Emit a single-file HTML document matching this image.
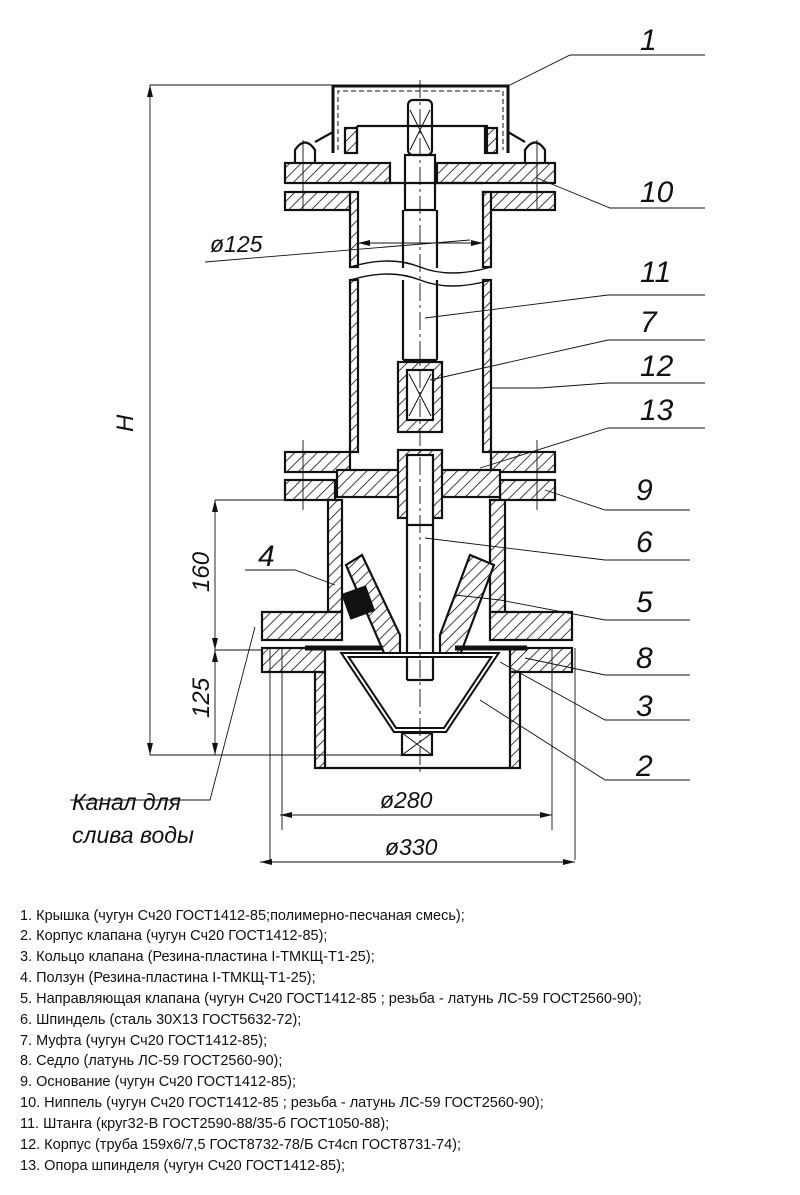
<!DOCTYPE html>
<html><head><meta charset="utf-8"><style>
body{margin:0;background:#fff}
svg{display:block}
.t{font-family:"Liberation Sans","DejaVu Sans",sans-serif;font-style:italic;fill:#111}
.l{font-family:"Liberation Sans","DejaVu Sans",sans-serif;font-size:14.5px;fill:#111}
</style></head><body>
<svg width="800" height="1195" viewBox="0 0 800 1195" xmlns="http://www.w3.org/2000/svg">
<defs>
<pattern id="h" width="8" height="8" patternUnits="userSpaceOnUse" patternTransform="rotate(45)">
<rect width="8" height="8" fill="#fff"/><line x1="0" y1="0" x2="0" y2="8" stroke="#111" stroke-width="1.6"/></pattern>
</defs>
<g stroke="#111" stroke-width="2.2" fill="none">
<path d="M333 153 V86 H508 V153" stroke-width="3"/>
<path d="M338 150 V91 H503 V150" stroke-width="1" stroke-dasharray="5 3"/>
<rect x="345" y="128" width="12" height="25" fill="url(#h)"/>
<rect x="485" y="128" width="12" height="25" fill="url(#h)"/>
<path d="M357 126 H487 V153 M357 126 V153"/>
<path d="M295 163 V150 Q305 135 315 150 V163 M525 163 V150 Q535 135 545 150 V163"/>
<path d="M315 142 L333 132 M525 142 L508 132"/>
<rect x="285" y="163" width="105" height="20" fill="url(#h)"/>
<rect x="437" y="163" width="118" height="20" fill="url(#h)"/>
<rect x="285" y="192" width="70" height="18" fill="url(#h)"/>
<rect x="483" y="192" width="72" height="18" fill="url(#h)"/>
<path d="M355 183 H483"/>
<rect x="350" y="192" width="8" height="75" fill="url(#h)"/>
<rect x="483" y="192" width="8" height="75" fill="url(#h)"/>
<rect x="350" y="280" width="8" height="172" fill="url(#h)"/>
<rect x="483" y="280" width="8" height="172" fill="url(#h)"/>
<path d="M350 267 Q390 255 420 267 T491 267" stroke-width="1.4"/>
<path d="M350 280 Q390 268 420 280 T491 280" stroke-width="1.4"/>
<rect x="408" y="100" width="24" height="55" rx="5"/>
<path d="M410 110 L430 150 M430 110 L410 150" stroke-width="1"/>
<rect x="405" y="155" width="30" height="55"/>
<path d="M403 210 V268 M437 210 V268 M403 280 V360 M437 280 V360 M403 360 H437"/>
<rect x="398" y="362" width="44" height="70" fill="url(#h)"/>
<rect x="407" y="370" width="26" height="50" fill="#fff"/>
<path d="M409 374 L431 416 M431 374 L409 416" stroke-width="1"/>
<rect x="285" y="452" width="65" height="20" fill="url(#h)"/>
<rect x="491" y="452" width="64" height="20" fill="url(#h)"/>
<rect x="285" y="480" width="50" height="20" fill="url(#h)"/>
<rect x="500" y="480" width="55" height="20" fill="url(#h)"/>
<rect x="337" y="470" width="163" height="27" fill="url(#h)"/>
<rect x="398" y="450" width="44" height="68" fill="url(#h)"/>
<rect x="407" y="455" width="26" height="70" fill="#fff"/>
<path d="M407 525 V680 M433 525 V680 M407 680 H433"/>
<rect x="328" y="500" width="14" height="112" fill="url(#h)"/>
<rect x="490" y="500" width="15" height="112" fill="url(#h)"/>
<path d="M262 612 H342 V640 H262 Z" fill="url(#h)"/>
<path d="M490 612 H572 V640 H490 Z" fill="url(#h)"/>
<path d="M346 565 L362 555 L400 635 L400 655 L385 655 Z" fill="url(#h)"/>
<path d="M494 565 L470 555 L440 635 L440 655 L460 655 Z" fill="url(#h)"/>
<rect x="346" y="590" width="24" height="25" fill="#111" transform="rotate(-20 358 602)"/>
<rect x="262" y="648" width="63" height="24" fill="url(#h)"/>
<rect x="510" y="648" width="62" height="24" fill="url(#h)"/>
<rect x="315" y="672" width="10" height="96" fill="url(#h)"/>
<rect x="510" y="672" width="10" height="96" fill="url(#h)"/>
<path d="M325 768 H510"/>
<path d="M305 648 H383 M455 648 H527" stroke-width="5"/>
<path d="M345 655 H495 L445 730 H395 Z" stroke-width="6"/>
<path d="M345 655 H495 L445 730 H395 Z" stroke="#fff" stroke-width="2"/>
<rect x="402" y="733" width="30" height="22"/>
<path d="M402 733 L432 755 M432 733 L402 755" stroke-width="1"/>
</g>
<g stroke="#111" stroke-width="0.9" fill="none">
<path d="M420 80 V775" stroke-dasharray="18 4 3 4"/>
<path d="M303 140 V210 M537 140 V210 M303 440 V510 M537 440 V510"/>
<path d="M270 648 V860 M282 648 V830 M552 648 V830 M575 648 V860"/>
<path d="M150 85 H333 M150 755 H402 M150 85 V755 M215 500 H285 M215 650 H262 M215 500 V755"/>
<path d="M280 815 H552 M260 862 H575"/>
<path d="M205 262 L470 240 M358 243 H483"/>
<path d="M508 86 L570 55 H705"/>
<path d="M537 178 L610 208 H705"/>
<path d="M425 318 L608 295 H705"/>
<path d="M430 380 L608 340 H705"/>
<path d="M491 388 L540 388 L608 383 H705"/>
<path d="M480 468 L608 428 H705"/>
<path d="M545 490 L605 510 H690"/>
<path d="M425 538 L605 560 H690"/>
<path d="M455 595 L500 600 L605 620 H690"/>
<path d="M525 658 L605 675 H690"/>
<path d="M500 662 L605 720 H690"/>
<path d="M480 700 L605 780 H690"/>
<path d="M335 585 L295 570 H245"/>
<path d="M255 627 L210 800 H70"/>
</g>
<g fill="#111">
<path d="M150 85 l-3 12 h6z M150 755 l-3 -12 h6z M215 500 l-3 12 h6z M215 650 l-3 -12 h6z M215 650 l-3 12 h6z M215 755 l-3 -12 h6z"/>
<path d="M280 815 l12 -3 v6z M552 815 l-12 -3 v6z M260 862 l12 -3 v6z M575 862 l-12 -3 v6z M358 243 l12 -3 v6z M483 243 l-12 -3 v6z"/>
</g>
<g class="t" font-size="30">
<text x="640" y="50">1</text><text x="640" y="202">10</text><text x="640" y="282">11</text>
<text x="640" y="332">7</text><text x="640" y="376">12</text><text x="640" y="420">13</text>
<text x="636" y="500">9</text><text x="636" y="552">6</text><text x="636" y="612">5</text>
<text x="636" y="668">8</text><text x="636" y="716">3</text><text x="636" y="776">2</text>
<text x="258" y="566">4</text>
</g>
<g class="t" font-size="24">
<text transform="translate(133,432) rotate(-90)">H</text>
<text transform="translate(209,592) rotate(-90)">160</text>
<text transform="translate(209,718) rotate(-90)">125</text>
</g>
<g class="t" font-size="23">
<text x="210" y="252">ø125</text><text x="380" y="808">ø280</text><text x="385" y="855">ø330</text>
<text x="72" y="810">Канал для</text><text x="72" y="843">слива воды</text>
</g>
<g class="l">
<text x="20" y="920">1.  Крышка (чугун Сч20 ГОСТ1412-85;полимерно-песчаная смесь);</text>
<text x="20" y="940">2.  Корпус клапана (чугун Сч20 ГОСТ1412-85);</text>
<text x="20" y="961">3.  Кольцо клапана (Резина-пластина I-ТМКЩ-Т1-25);</text>
<text x="20" y="982">4.  Ползун (Резина-пластина I-ТМКЩ-Т1-25);</text>
<text x="20" y="1003">5.  Направляющая клапана (чугун Сч20 ГОСТ1412-85 ; резьба - латунь ЛС-59 ГОСТ2560-90);</text>
<text x="20" y="1024">6.  Шпиндель (сталь 30Х13 ГОСТ5632-72);</text>
<text x="20" y="1045">7.  Муфта (чугун Сч20 ГОСТ1412-85);</text>
<text x="20" y="1065">8.  Седло (латунь ЛС-59 ГОСТ2560-90);</text>
<text x="20" y="1086">9.  Основание (чугун Сч20 ГОСТ1412-85);</text>
<text x="20" y="1107">10. Ниппель (чугун Сч20 ГОСТ1412-85 ; резьба - латунь ЛС-59 ГОСТ2560-90);</text>
<text x="20" y="1128">11. Штанга (круг32-В ГОСТ2590-88/35-б ГОСТ1050-88);</text>
<text x="20" y="1149">12. Корпус (труба 159х6/7,5 ГОСТ8732-78/Б Ст4сп ГОСТ8731-74);</text>
<text x="20" y="1170">13. Опора шпинделя (чугун Сч20 ГОСТ1412-85);</text>
</g>
</svg>
</body></html>
